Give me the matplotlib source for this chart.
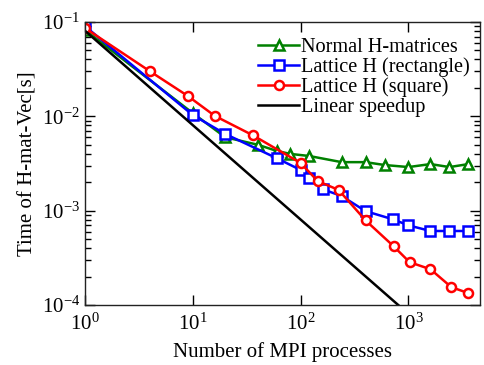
import matplotlib
matplotlib.use("Agg")
import matplotlib.pyplot as plt
from matplotlib.ticker import LogLocator, NullFormatter, NullLocator

plt.rcParams['font.family'] = ['Liberation Serif', 'DejaVu Serif']
plt.rcParams['mathtext.fontset'] = 'custom'
plt.rcParams['mathtext.rm'] = 'Liberation Serif'
plt.rcParams['mathtext.it'] = 'Liberation Serif:italic'
plt.rcParams['mathtext.bf'] = 'Liberation Serif:bold'

# Normal H-matrices
normal_p = [1, 10, 20, 40, 60, 80, 120, 240, 400, 600, 1000, 1600, 2400, 3600]
normal_t = [0.082, 0.0108, 0.0060, 0.0050, 0.0043, 0.0040, 0.0038, 0.00327,
            0.00327, 0.00305, 0.0029, 0.00312, 0.0029, 0.00312]

# Lattice H (rectangle)
rect_p = [1, 10, 20, 60, 100, 120, 160, 240, 400, 720, 1000, 1600, 2400, 3600]
rect_t = [0.090, 0.0103, 0.0065, 0.0036, 0.0027, 0.00222, 0.00169, 0.00143,
          0.00099, 0.00081, 0.00070, 0.00061, 0.00061, 0.00061]

# Lattice H (square)
square_p = [1, 4, 9, 16, 36, 100, 144, 225, 400, 729, 1024, 1600, 2500, 3600]
square_t = [0.086, 0.030, 0.0164, 0.0101, 0.0063, 0.0032, 0.00206, 0.00166,
            0.00079, 0.00042, 0.000285, 0.00024, 0.000155, 0.000134]

# Linear speedup
linear_p = [1, 5000]
linear_t0 = 0.0806

fig = plt.figure(figsize=(4.84, 3.65), dpi=100)
ax = fig.add_axes([0.1756, 0.164, 0.816, 0.776])

mk = dict(markersize=6.5, markeredgewidth=1.8, markerfacecolor='white', linewidth=1.8)
ax.plot(normal_p, normal_t, color='#008000', marker='^', label='Normal H-matrices', **mk)
ax.plot(rect_p, rect_t, color='#0000ff', marker='s', label='Lattice H (rectangle)', **mk)
ax.plot(square_p, square_t, color='#ff0000', marker='o', label='Lattice H (square)', **mk)
ax.plot(linear_p, [linear_t0 / p for p in linear_p], color='black', linewidth=1.8,
        label='Linear speedup')

ax.set_xscale('log')
ax.set_yscale('log')
ax.set_xlim(1, 4600)
ax.set_ylim(1e-4, 1e-1)

ax.xaxis.set_minor_locator(NullLocator())
ax.yaxis.set_minor_locator(LogLocator(base=10, subs=range(2, 10)))
ax.yaxis.set_minor_formatter(NullFormatter())
ax.tick_params(which='both', direction='in', top=True, right=True, labelsize=15)
ax.tick_params(which='major', length=7, width=1)
ax.tick_params(which='minor', length=4, width=1)
ax.tick_params(axis='x', pad=6)

for s in ax.spines.values():
    s.set_linewidth(1.0)
    s.set_color('#222222')

ax.set_xlabel('Number of MPI processes', fontsize=15, labelpad=5)
ax.set_ylabel('Time of H-mat-Vec[s]', fontsize=15, labelpad=3)

ax.legend(loc='upper right', frameon=False, fontsize=14.6, handlelength=2.0,
          handletextpad=0.1, labelspacing=0.02, borderaxespad=0.1,
          bbox_to_anchor=(1.0, 0.98))

fig.savefig('out.png', dpi=100)
